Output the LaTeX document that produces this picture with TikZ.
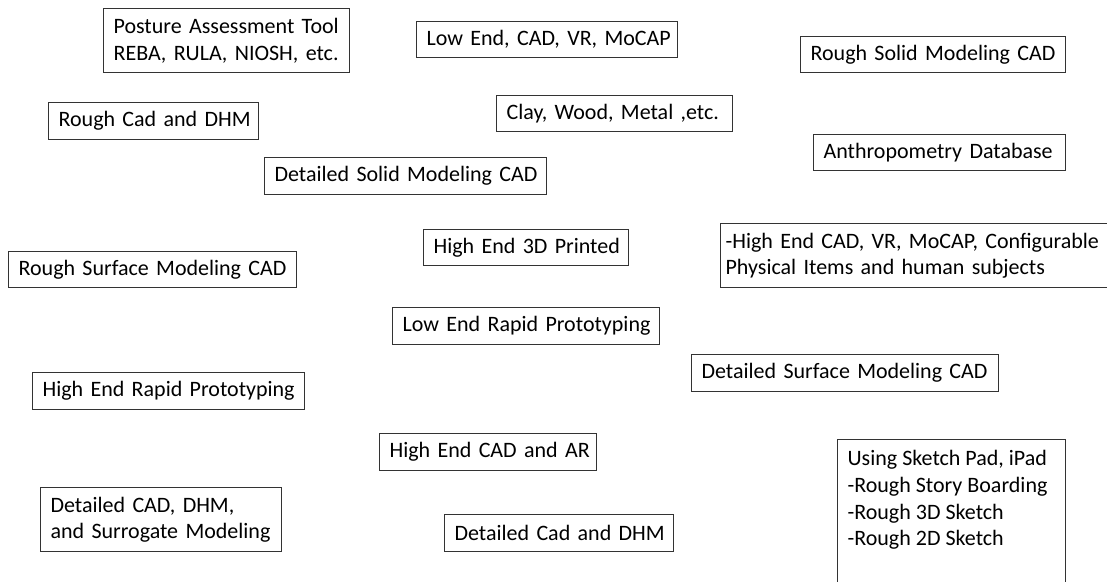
\documentclass[tikz,border=0pt]{standalone}
\usepackage{fontspec}
\setmainfont{Carlito}
\tikzset{
  box/.style={draw=black!80, line width=1.2pt, fill=white, text=black,
    anchor=north west, align=left, inner xsep=10pt, inner ysep=0pt,
    font=\fontsize{22}{26.7}\selectfont},
}
\begin{document}
\begin{tikzpicture}[x=1pt, y=-1pt]
\useasboundingbox (0,0) rectangle (1107,581);
\clip (0,0) rectangle (1107,581);
% left column
\node[box, text width=226pt, minimum height=64pt] (pat) at (103,8) {\mbox{Posture Assessment Tool}\\\mbox{REBA, RULA, NIOSH, etc.}};
\node[box, text width=190pt, minimum height=37pt] (rcd) at (48,102) {\mbox{Rough Cad and DHM}};
\node[box, text width=268pt, minimum height=36pt] (rsm) at (8,251) {\mbox{Rough Surface Modeling CAD}};
\node[box, text width=252pt, minimum height=37pt] (herp) at (32,372) {\mbox{High End Rapid Prototyping}};
\node[box, text width=221pt, minimum height=64pt] (dcs) at (40,487) {\mbox{Detailed CAD, DHM,}\\\mbox{and Surrogate Modeling}};
% middle column
\node[box, text width=241pt, minimum height=36pt] (lecad) at (416,21) {\mbox{Low End, CAD, VR, MoCAP}};
\node[box, text width=216pt, minimum height=36pt] (clay) at (496,95) {\mbox{Clay, Wood, Metal ,etc.}};
\node[box, text width=262pt, minimum height=37pt] (dsm) at (264,157) {\mbox{Detailed Solid Modeling CAD}};
\node[box, text width=185pt, minimum height=36pt] (he3d) at (423,229) {\mbox{High End 3D Printed}};
\node[box, text width=247pt, minimum height=37pt] (lerp) at (392,307) {\mbox{Low End Rapid Prototyping}};
\node[box, text width=197pt, minimum height=37pt] (hecar) at (379,433) {\mbox{High End CAD and AR}};
\node[box, text width=209pt, minimum height=37pt] (dcd) at (444,514) {\mbox{Detailed Cad and DHM}};
% right column
\node[box, text width=245pt, minimum height=36pt] (rsolid) at (800,36) {\mbox{Rough Solid Modeling CAD}};
\node[box, text width=232pt, minimum height=36pt] (anth) at (813,134) {\mbox{Anthropometry Database}};
\node[box, inner xsep=5pt, text width=390pt, minimum height=64pt] (hecad) at (720,223) {\mbox{-High End CAD, VR, MoCAP, Configurable}\\\mbox{Physical Items and human subjects}};
\node[box, text width=287pt, minimum height=37pt] (dsurf) at (691,354) {\mbox{Detailed Surface Modeling CAD}};
\node[box, inner ysep=0pt] (sketch) at (837,439)
  {\parbox[b][160pt][t]{208pt}{\vspace*{11pt}Using Sketch Pad, iPad\\-Rough Story Boarding\\-Rough 3D Sketch\\-Rough 2D Sketch}};
\end{tikzpicture}
\end{document}
